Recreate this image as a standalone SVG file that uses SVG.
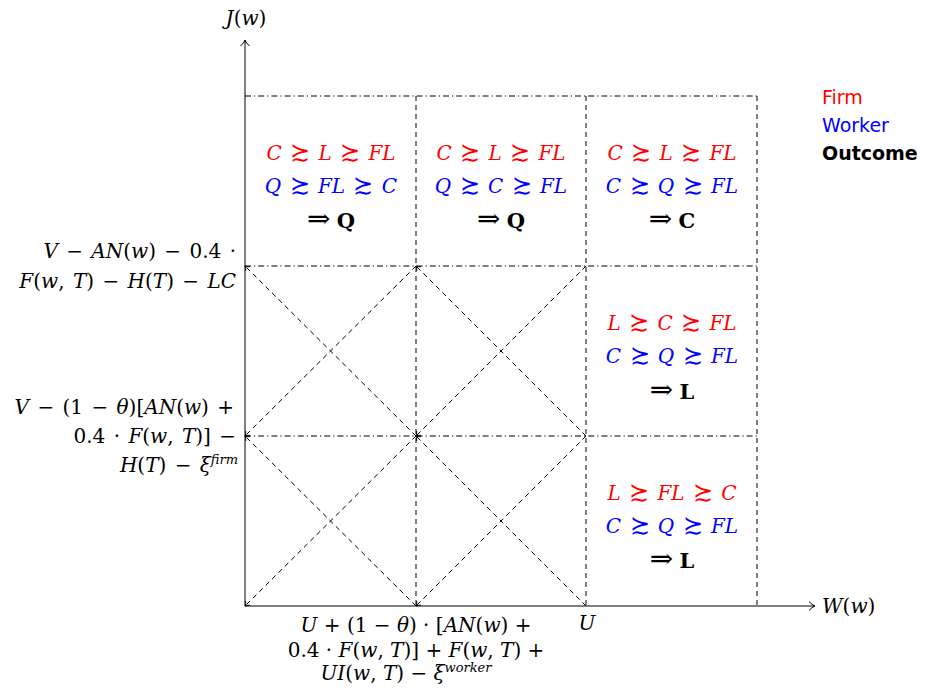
<svg xmlns="http://www.w3.org/2000/svg" width="925" height="700" viewBox="0 0 925 700">
<style>
.m{font-family:"DejaVu Serif","Liberation Serif",serif;font-size:20px;fill:#000}
.i{font-style:italic}
.b{font-weight:bold}
.o{font-weight:bold;font-size:21px}
.r{fill:#ff0000}
.bl{fill:#0000ff}
.c{text-anchor:middle}
.e{text-anchor:end}
.w{word-spacing:2px}
.s{font-size:24px}
.t{font-size:28px}
.leg{font-family:"DejaVu Sans","Liberation Sans",sans-serif;font-size:19px}
.sup{font-size:13px}
.ax{stroke:#000;stroke-width:1;fill:none}
.dd{stroke:#000;stroke-width:1;fill:none;stroke-dasharray:6 3 1.2 3}
.ds{stroke:#000;stroke-width:1;fill:none;stroke-dasharray:5 4}
.dg{stroke:#000;stroke-width:1;fill:none;stroke-dasharray:5 4}
</style>
<defs>
<marker id="ah" markerWidth="12" markerHeight="12" refX="9" refY="6" orient="auto" markerUnits="userSpaceOnUse">
<path d="M3,1.5 Q6,5 9,6 Q6,7 3,10.5" fill="none" stroke="#000" stroke-width="1"/>
</marker>
<marker id="sh" markerWidth="8" markerHeight="8" refX="6" refY="4" orient="auto" markerUnits="userSpaceOnUse">
<path d="M2,1 Q4,3.3 6,4 Q4,4.7 2,7" fill="none" stroke="#000" stroke-width="0.9"/>
</marker>
</defs>

<g id="connectors">
<line class="ax" x1="245" y1="606" x2="245" y2="40" marker-end="url(#ah)"/>
<line class="ax" x1="245" y1="606" x2="815" y2="606" marker-end="url(#ah)"/>
<line class="dd" x1="245" y1="96" x2="757" y2="96"/>
<line class="dd" x1="245" y1="266" x2="757" y2="266"/>
<line class="dd" x1="245" y1="436" x2="757" y2="436"/>
<line class="ds" x1="416" y1="96" x2="416" y2="606"/>
<line class="ds" x1="586" y1="96" x2="586" y2="606"/>
<line class="ds" x1="757" y1="96" x2="757" y2="606"/>
<line class="dg" x1="416" y1="436" x2="245" y2="266" marker-end="url(#sh)"/>
<line class="dg" x1="416" y1="266" x2="245" y2="436" marker-end="url(#sh)"/>
<line class="dg" x1="416" y1="606" x2="245" y2="436" marker-end="url(#sh)"/>
<line class="dg" x1="416" y1="436" x2="245" y2="606" marker-end="url(#sh)"/>
<line class="dg" x1="586" y1="436" x2="416" y2="266" marker-end="url(#sh)"/>
<line class="dg" x1="586" y1="266" x2="416" y2="436" marker-end="url(#sh)"/>
<line class="dg" x1="586" y1="606" x2="416" y2="436" marker-end="url(#sh)"/>
<line class="dg" x1="586" y1="436" x2="416" y2="606" marker-end="url(#sh)"/>
</g>

<g id="axis-labels">
<text class="m c" x="246" y="25"><tspan class="i">J</tspan>(<tspan class="i">w</tspan>)</text>
<text class="m" x="822" y="613"><tspan class="i">W</tspan>(<tspan class="i">w</tspan>)</text>
<text class="m c i" x="587" y="630">U</text>
</g>

<g id="label-y1">
<text class="m e w" x="236" y="258"><tspan class="i">V</tspan> − <tspan class="i">AN</tspan>(<tspan class="i">w</tspan>) − 0.4 ·</text>
<text class="m e w" x="236" y="288"><tspan class="i">F</tspan>(<tspan class="i">w</tspan>, <tspan class="i">T</tspan>) − <tspan class="i">H</tspan>(<tspan class="i">T</tspan>) − <tspan class="i">LC</tspan></text>
</g>

<g id="label-y2">
<text class="m e w" x="234" y="414"><tspan class="i">V</tspan> − (1 − <tspan class="i">θ</tspan>)[<tspan class="i">AN</tspan>(<tspan class="i">w</tspan>) +</text>
<text class="m e w" x="236" y="443">0.4 · <tspan class="i">F</tspan>(<tspan class="i">w</tspan>, <tspan class="i">T</tspan>)] −</text>
<text class="m e w" x="238" y="472"><tspan class="i">H</tspan>(<tspan class="i">T</tspan>) − <tspan class="i">ξ</tspan><tspan class="i sup" dy="-8">firm</tspan></text>
</g>

<g id="label-x1">
<text class="m c" x="416" y="632"><tspan class="i">U</tspan> + (1 − <tspan class="i">θ</tspan>) · [<tspan class="i">AN</tspan>(<tspan class="i">w</tspan>) +</text>
<text class="m c" x="416" y="657">0.4 · <tspan class="i">F</tspan>(<tspan class="i">w</tspan>, <tspan class="i">T</tspan>)] + <tspan class="i">F</tspan>(<tspan class="i">w</tspan>, <tspan class="i">T</tspan>) +</text>
<text class="m c" x="406" y="680"><tspan class="i">UI</tspan>(<tspan class="i">w</tspan>, <tspan class="i">T</tspan>) − <tspan class="i">ξ</tspan><tspan class="i sup" dy="-8">worker</tspan></text>
</g>

<g id="cell-1-1">
<text class="m c r w" x="331" y="160"><tspan class="i">C</tspan> <tspan class="s">≿</tspan> <tspan class="i">L</tspan> <tspan class="s">≿</tspan> <tspan class="i">FL</tspan></text>
<text class="m c bl w" x="331" y="193"><tspan class="i">Q</tspan> <tspan class="s">≿</tspan> <tspan class="i">FL</tspan> <tspan class="s">≿</tspan> <tspan class="i">C</tspan></text>
<text class="m c" x="331" y="228"><tspan class="t">⇒</tspan> <tspan class="o">Q</tspan></text>
</g>

<g id="cell-1-2">
<text class="m c r w" x="501" y="160"><tspan class="i">C</tspan> <tspan class="s">≿</tspan> <tspan class="i">L</tspan> <tspan class="s">≿</tspan> <tspan class="i">FL</tspan></text>
<text class="m c bl w" x="501" y="193"><tspan class="i">Q</tspan> <tspan class="s">≿</tspan> <tspan class="i">C</tspan> <tspan class="s">≿</tspan> <tspan class="i">FL</tspan></text>
<text class="m c" x="501" y="228"><tspan class="t">⇒</tspan> <tspan class="o">Q</tspan></text>
</g>

<g id="cell-1-3">
<text class="m c r w" x="672" y="160"><tspan class="i">C</tspan> <tspan class="s">≿</tspan> <tspan class="i">L</tspan> <tspan class="s">≿</tspan> <tspan class="i">FL</tspan></text>
<text class="m c bl w" x="672" y="193"><tspan class="i">C</tspan> <tspan class="s">≿</tspan> <tspan class="i">Q</tspan> <tspan class="s">≿</tspan> <tspan class="i">FL</tspan></text>
<text class="m c" x="672" y="228"><tspan class="t">⇒</tspan> <tspan class="o">C</tspan></text>
</g>

<g id="cell-2-3">
<text class="m c r w" x="672" y="330"><tspan class="i">L</tspan> <tspan class="s">≿</tspan> <tspan class="i">C</tspan> <tspan class="s">≿</tspan> <tspan class="i">FL</tspan></text>
<text class="m c bl w" x="672" y="363"><tspan class="i">C</tspan> <tspan class="s">≿</tspan> <tspan class="i">Q</tspan> <tspan class="s">≿</tspan> <tspan class="i">FL</tspan></text>
<text class="m c" x="672" y="399"><tspan class="t">⇒</tspan> <tspan class="o">L</tspan></text>
</g>

<g id="cell-3-3">
<text class="m c r w" x="672" y="500"><tspan class="i">L</tspan> <tspan class="s">≿</tspan> <tspan class="i">FL</tspan> <tspan class="s">≿</tspan> <tspan class="i">C</tspan></text>
<text class="m c bl w" x="672" y="533"><tspan class="i">C</tspan> <tspan class="s">≿</tspan> <tspan class="i">Q</tspan> <tspan class="s">≿</tspan> <tspan class="i">FL</tspan></text>
<text class="m c" x="672" y="568"><tspan class="t">⇒</tspan> <tspan class="o">L</tspan></text>
</g>

<g id="legend">
<text class="leg r" x="822" y="104">Firm</text>
<text class="leg bl" x="822" y="132">Worker</text>
<text class="leg b" x="822" y="160">Outcome</text>
</g>
</svg>
